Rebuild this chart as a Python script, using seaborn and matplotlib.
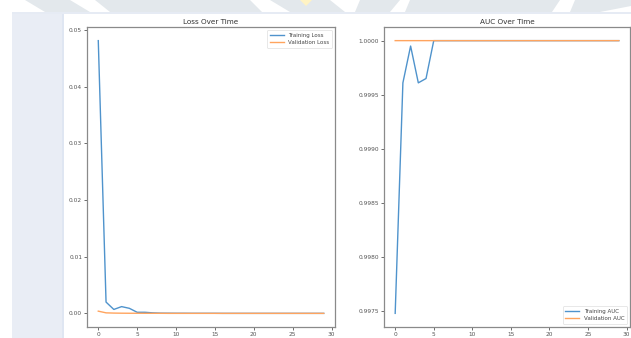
import matplotlib
matplotlib.use("Agg")
import matplotlib.pyplot as plt
from matplotlib.patches import Rectangle, Polygon
import seaborn as sns

# Per-epoch training history (30 epochs)
epochs = list(range(30))
train_loss = [0.0481, 0.0020, 0.0007, 0.0012, 0.0009, 0.0002, 0.0002, 0.0001,
              0.00005, 0.00004, 0.00003, 0.00003, 0.00002, 0.00002, 0.00002,
              0.00002, 0.00001, 0.00001, 0.00001, 0.00001, 0.00001, 0.00001,
              0.00001, 0.00001, 0.00001, 0.00001, 0.00001, 0.00001, 0.00001,
              0.00001]
val_loss = [0.0004, 0.0001, 0.00006, 0.00004, 0.00003, 0.00003, 0.00002,
            0.00002, 0.00002, 0.00001, 0.00001, 0.00001, 0.00001, 0.00001,
            0.00001, 0.00001, 0.00001, 0.00001, 0.00001, 0.00001, 0.00001,
            0.00001, 0.00001, 0.00001, 0.00001, 0.00001, 0.00001, 0.00001,
            0.00001, 0.00001]
train_auc = [0.99748, 0.99961, 0.99995, 0.99961, 0.99965, 1.0, 1.0, 1.0, 1.0,
             1.0, 1.0, 1.0, 1.0, 1.0, 1.0, 1.0, 1.0, 1.0, 1.0, 1.0, 1.0, 1.0,
             1.0, 1.0, 1.0, 1.0, 1.0, 1.0, 1.0, 1.0]
val_auc = [1.0] * 30

W, H = 631, 338
fig = plt.figure(figsize=(W / 100, H / 100), dpi=100)
fig.patch.set_facecolor("white")

def px(x, y):
    return x / W, 1 - y / H

# page background: left margin panel and top band with faint watermark shapes
fig.patches.append(Rectangle(px(12, 338), 51 / W, 326 / H, transform=fig.transFigure,
                             facecolor="#e9edf5", edgecolor="none", zorder=0))
fig.patches.append(Rectangle(px(12, 14), (W - 12) / W, 2 / H, transform=fig.transFigure,
                             facecolor="#e6ebf4", edgecolor="none", zorder=0))
fig.patches.append(Rectangle(px(62, 338), 2 / W, 324 / H, transform=fig.transFigure,
                             facecolor="#dfe6f2", edgecolor="none", zorder=0))
for pts in [[(25, 0), (70, 0), (90, 12), (45, 12)],
            [(95, 0), (250, 0), (262, 12), (110, 12)],
            [(270, 0), (330, 0), (345, 12), (290, 12)],
            [(360, 0), (400, 0), (390, 12), (355, 12)],
            [(410, 0), (560, 0), (552, 12), (405, 12)],
            [(575, 0), (631, 0), (631, 6), (600, 12), (570, 12)]]:
    fig.patches.append(Polygon([px(x, y) for x, y in pts], closed=True,
                               transform=fig.transFigure, facecolor="#e3e8ec",
                               edgecolor="none", zorder=0))
fig.patches.append(Polygon([px(x, y) for x, y in [(300, 0), (312, 0), (306, 6)]], closed=True,
                           transform=fig.transFigure, facecolor="#fff3c4",
                           edgecolor="none", zorder=0))

ax1 = fig.add_axes([87 / W, 1 - 327 / H, 248 / W, 300 / H])
ax2 = fig.add_axes([384 / W, 1 - 327 / H, 246 / W, 300 / H])

blue, orange = "#4f93cc", "#ffa45e"

# training first, validation drawn on top of it
sns.lineplot(x=epochs, y=train_loss, color=blue, label="Training Loss",
             ax=ax1, linewidth=1.0, zorder=2)
sns.lineplot(x=epochs, y=val_loss, color=orange, label="Validation Loss",
             ax=ax1, linewidth=1.0, zorder=3)
sns.lineplot(x=epochs, y=train_auc, color=blue, label="Training AUC",
             ax=ax2, linewidth=1.0, zorder=2)
sns.lineplot(x=epochs, y=val_auc, color=orange, label="Validation AUC",
             ax=ax2, linewidth=1.0, zorder=3)

# no pixel snapping, so overlapping flat segments land on the same rows
for ax in (ax1, ax2):
    for ln in ax.lines:
        ln.set_snap(False)

ax1.set_yticks([0.0, 0.01, 0.02, 0.03, 0.04, 0.05])
ax1.set_yticklabels(["0.00", "0.01", "0.02", "0.03", "0.04", "0.05"])
ax2.set_yticks([0.9975, 0.998, 0.9985, 0.999, 0.9995, 1.0])
ax2.set_yticklabels(["0.9975", "0.9980", "0.9985", "0.9990", "0.9995", "1.0000"])

for ax, title, loc in [(ax1, "Loss Over Time", "upper right"),
                       (ax2, "AUC Over Time", "lower right")]:
    ax.set_xticks([0, 5, 10, 15, 20, 25, 30])
    ax.set_xlabel("")
    ax.set_ylabel("")
    ax.set_title(title, fontsize=5.2, color="#333333", pad=2.5)
    ax.tick_params(labelsize=4.2, colors="#555555", length=2, width=0.6, pad=1.5)
    for s in ax.spines.values():
        s.set_color("#8a8a8a")
        s.set_linewidth(0.9)
    leg = ax.legend(loc=loc, fontsize=4.0, frameon=True, handlelength=2.5,
                    borderpad=0.5, labelspacing=0.5, handletextpad=0.8)
    leg.get_frame().set_linewidth(0.4)
    leg.get_frame().set_edgecolor("#cccccc")
    for t in leg.get_texts():
        t.set_color("#444444")
    for h in leg.get_lines():
        h.set_linewidth(1.0)

fig.savefig("out.png", dpi=100)
